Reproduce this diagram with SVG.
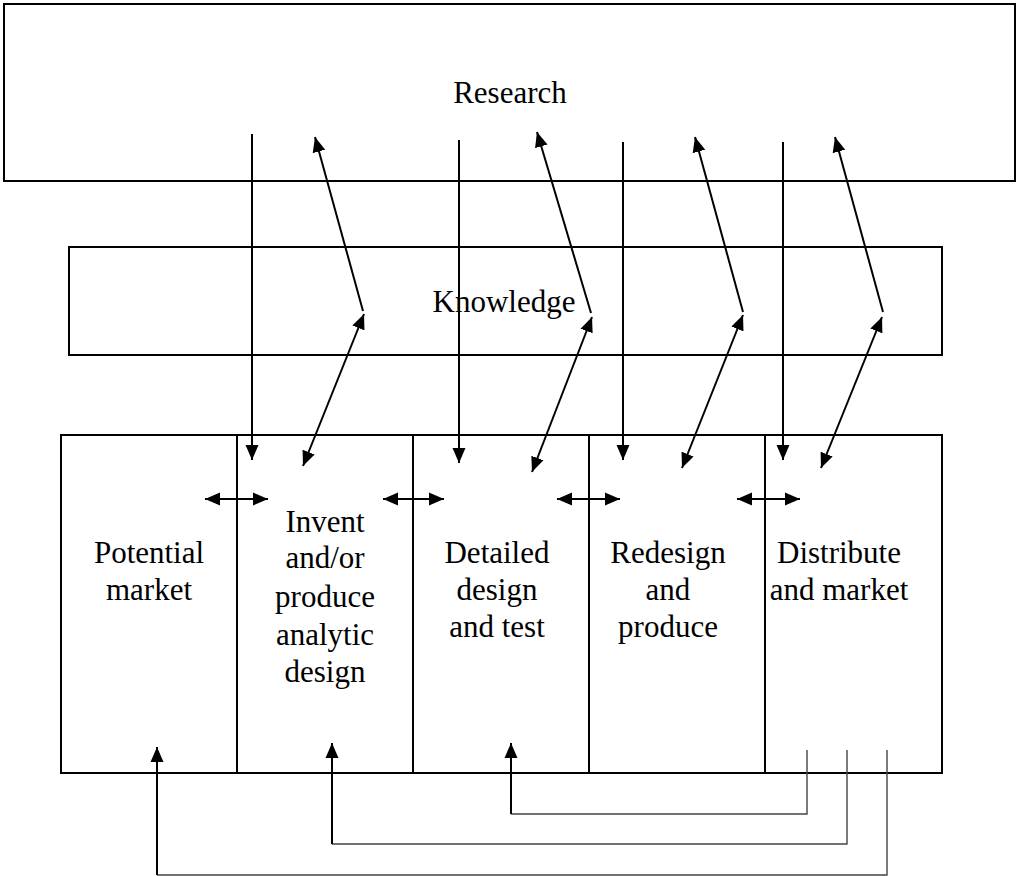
<svg xmlns="http://www.w3.org/2000/svg" width="1019" height="876" viewBox="0 0 1019 876">
<style>
.box{fill:none;stroke:#000;stroke-width:2}
.lbl{font-family:"Liberation Serif","Times New Roman",serif;font-size:31px;fill:#000;text-anchor:middle}
.arr{fill:none;stroke:#000;stroke-width:2}
.fb{fill:none;stroke:#444;stroke-width:1.4}
</style>
<defs>
<marker id="ah" markerUnits="userSpaceOnUse" markerWidth="16" markerHeight="14" refX="15" refY="6.5" orient="auto-start-reverse" viewBox="0 0 16 13">
<path d="M0,0 L15,6.5 L0,13 z" fill="#000"/>
</marker>
</defs>
<rect width="1019" height="876" fill="#fff"/>
<g id="research">
<rect class="box" x="4" y="4" width="1011" height="177"/>
<text class="lbl" x="510" y="103">Research</text>
</g>
<g id="knowledge">
<rect class="box" x="69" y="247" width="873" height="108"/>
<text class="lbl" x="504" y="312">Knowledge</text>
</g>
<g id="potential-market">
<rect class="box" x="61" y="435" width="176" height="338"/>
<text class="lbl" x="149" y="563">Potential</text>
<text class="lbl" x="149" y="600">market</text>
</g>
<g id="invent">
<rect class="box" x="237" y="435" width="176" height="338"/>
<text class="lbl" x="325" y="532">Invent</text>
<text class="lbl" x="325" y="568">and/or</text>
<text class="lbl" x="325" y="607">produce</text>
<text class="lbl" x="325" y="645">analytic</text>
<text class="lbl" x="325" y="682">design</text>
</g>
<g id="detailed-design">
<rect class="box" x="413" y="435" width="176" height="338"/>
<text class="lbl" x="497" y="563">Detailed</text>
<text class="lbl" x="497" y="600">design</text>
<text class="lbl" x="497" y="637">and test</text>
</g>
<g id="redesign">
<rect class="box" x="589" y="435" width="176" height="338"/>
<text class="lbl" x="668" y="563">Redesign</text>
<text class="lbl" x="668" y="600">and</text>
<text class="lbl" x="668" y="637">produce</text>
</g>
<g id="distribute">
<rect class="box" x="765" y="435" width="177" height="338"/>
<text class="lbl" x="839" y="563">Distribute</text>
<text class="lbl" x="839" y="600">and market</text>
</g>
<g id="connectors">
<!-- research down arrows -->
<line class="arr" x1="252" y1="134" x2="252" y2="460" marker-end="url(#ah)"/>
<line class="arr" x1="459" y1="140" x2="459" y2="463" marker-end="url(#ah)"/>
<line class="arr" x1="623" y1="142" x2="623" y2="460" marker-end="url(#ah)"/>
<line class="arr" x1="783" y1="142" x2="783" y2="460" marker-end="url(#ah)"/>
<!-- knowledge up to research -->
<line class="arr" x1="363" y1="311" x2="315" y2="137" marker-end="url(#ah)"/>
<line class="arr" x1="591" y1="313" x2="537" y2="132" marker-end="url(#ah)"/>
<line class="arr" x1="743" y1="312" x2="695" y2="137" marker-end="url(#ah)"/>
<line class="arr" x1="883" y1="312" x2="835" y2="137" marker-end="url(#ah)"/>
<!-- knowledge <-> stages -->
<line class="arr" x1="364" y1="314" x2="303" y2="466" marker-start="url(#ah)" marker-end="url(#ah)"/>
<line class="arr" x1="592" y1="317" x2="532" y2="472" marker-start="url(#ah)" marker-end="url(#ah)"/>
<line class="arr" x1="743" y1="315" x2="682" y2="468" marker-start="url(#ah)" marker-end="url(#ah)"/>
<line class="arr" x1="882" y1="317" x2="821" y2="468" marker-start="url(#ah)" marker-end="url(#ah)"/>
<!-- stage <-> stage -->
<line class="arr" x1="205" y1="499" x2="268" y2="499" marker-start="url(#ah)" marker-end="url(#ah)"/>
<line class="arr" x1="383" y1="499" x2="444" y2="499" marker-start="url(#ah)" marker-end="url(#ah)"/>
<line class="arr" x1="557" y1="499" x2="620" y2="499" marker-start="url(#ah)" marker-end="url(#ah)"/>
<line class="arr" x1="737" y1="499" x2="800" y2="499" marker-start="url(#ah)" marker-end="url(#ah)"/>
<!-- feedback -->
<polyline class="fb" points="807,750 807,814 511,814"/>
<line class="arr" x1="511" y1="814" x2="511" y2="743" marker-end="url(#ah)"/>
<polyline class="fb" points="847,750 847,844 332,844"/>
<line class="arr" x1="332" y1="844" x2="332" y2="743" marker-end="url(#ah)"/>
<polyline class="fb" points="887,750 887,875 157,875"/>
<line class="arr" x1="157" y1="875" x2="157" y2="747" marker-end="url(#ah)"/>
</g>
</svg>
